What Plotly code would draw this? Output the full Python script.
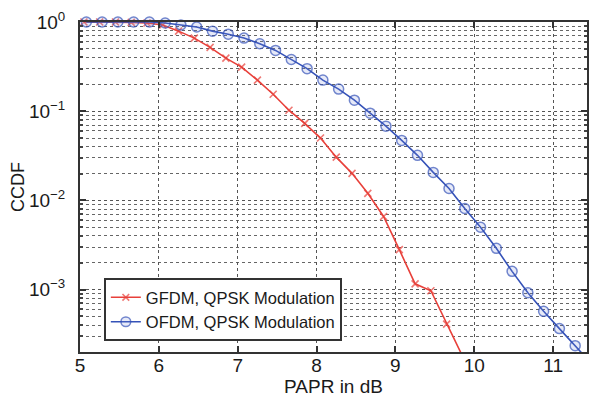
import plotly.graph_objects as go

# ---- data ----
gfdm_x = [5.05, 5.25, 5.45, 5.65, 5.85, 6.05, 6.25, 6.45, 6.65, 6.85, 7.05, 7.25, 7.45,
          7.65, 7.85, 8.05, 8.25, 8.45, 8.65, 8.85, 9.05, 9.25, 9.45, 9.65, 9.85]
gfdm_y = [1.0, 1.0, 1.0, 0.99, 0.975, 0.925, 0.79, 0.66, 0.52, 0.394, 0.312, 0.223, 0.155,
          0.1025, 0.073, 0.050, 0.0305, 0.0201, 0.0120, 0.0066, 0.0028, 0.00116, 0.00097,
          0.00041, 0.00018]

ofdm_x = [5.08, 5.28, 5.48, 5.68, 5.88, 6.08, 6.28, 6.48, 6.68, 6.88, 7.08, 7.28, 7.48,
          7.68, 7.88, 8.08, 8.28, 8.48, 8.68, 8.88, 9.08, 9.28, 9.48, 9.68, 9.88, 10.08,
          10.28, 10.48, 10.68, 10.88, 11.08, 11.28, 11.48]
ofdm_y = [1.0, 1.0, 1.0, 1.0, 1.0, 0.975, 0.925, 0.88, 0.79, 0.73, 0.66, 0.57, 0.48,
          0.38, 0.30, 0.223, 0.177, 0.133, 0.095, 0.068, 0.047, 0.032, 0.0206, 0.0136,
          0.0081, 0.0050, 0.0029, 0.0016, 0.00092, 0.00057, 0.000365, 0.000235, 0.00015]

series_names = ["GFDM, QPSK Modulation", "OFDM, QPSK Modulation"]
x_ticks = [5, 6, 7, 8, 9, 10, 11]
y_ticks = [1, 0.1, 0.01, 0.001]
y_ticktext = ["10<sup>0</sup>", "10<sup>−1</sup>", "10<sup>−2</sup>", "10<sup>−3</sup>"]
x_range = [5, 11.43]
y_range_log = [-3.70, 0]
x_title = "PAPR in dB"
y_title = "CCDF"

RED = "#e8403a"
BLUE = "#3552b8"
FONT = "Liberation Sans, Arial, sans-serif"

# hide markers of the points that fall outside the plotted window
gfdm_sizes = [7] * (len(gfdm_x) - 1) + [0]
ofdm_sizes = [10] * (len(ofdm_x) - 1) + [0]

fig = go.Figure()
fig.add_trace(go.Scatter(
    x=gfdm_x, y=gfdm_y, mode="lines+markers", name=series_names[0],
    line=dict(color=RED, width=1.6),
    marker=dict(symbol="x-thin", size=gfdm_sizes, line=dict(color=RED, width=1.6), color=RED),
    cliponaxis=False,
))
fig.add_trace(go.Scatter(
    x=ofdm_x, y=ofdm_y, mode="lines+markers", name=series_names[1],
    line=dict(color=BLUE, width=1.6),
    marker=dict(symbol="circle", size=ofdm_sizes, color="rgba(120,140,220,0.25)",
                line=dict(color=BLUE, width=1.5)),
    cliponaxis=False,
))

fig.update_layout(
    width=591, height=399,
    margin=dict(l=80, r=2, t=22, b=47),
    paper_bgcolor="white", plot_bgcolor="white",
    font=dict(family=FONT, size=19, color="#1a1a1a"),
    showlegend=True,
    legend=dict(
        x=0.047, y=0.224, xanchor="left", yanchor="top",
        bgcolor="white", bordercolor="#333", borderwidth=2,
        font=dict(family=FONT, size=16.5, color="#1a1a1a"),
        tracegroupgap=0, itemwidth=30,
    ),
    xaxis=dict(
        range=x_range, tickvals=x_ticks, ticks="inside", ticklen=6, tickwidth=1.5,
        tickcolor="#333", showline=True, linecolor="#333", linewidth=2, mirror="ticks",
        showgrid=True, gridcolor="#555", griddash="dot", gridwidth=1,
        zeroline=False, ticklabelstandoff=-5,
        title=dict(text=x_title, standoff=0, font=dict(size=19)),
    ),
    yaxis=dict(
        type="log", range=y_range_log, tickvals=y_ticks, ticktext=y_ticktext,
        ticks="inside", ticklen=6, tickwidth=1.5, tickcolor="#333",
        showline=True, linecolor="#333", linewidth=2, mirror="ticks",
        showgrid=True, gridcolor="#555", griddash="dot", gridwidth=1,
        minor=dict(dtick="D1", showgrid=True, gridcolor="#666", griddash="dot",
                   gridwidth=1, ticks="inside", ticklen=3, tickcolor="#444"),
        zeroline=False, ticklabelstandoff=9,
        title=dict(text=y_title, standoff=0, font=dict(size=18)),
    ),
)

fig.write_html("out.html")
